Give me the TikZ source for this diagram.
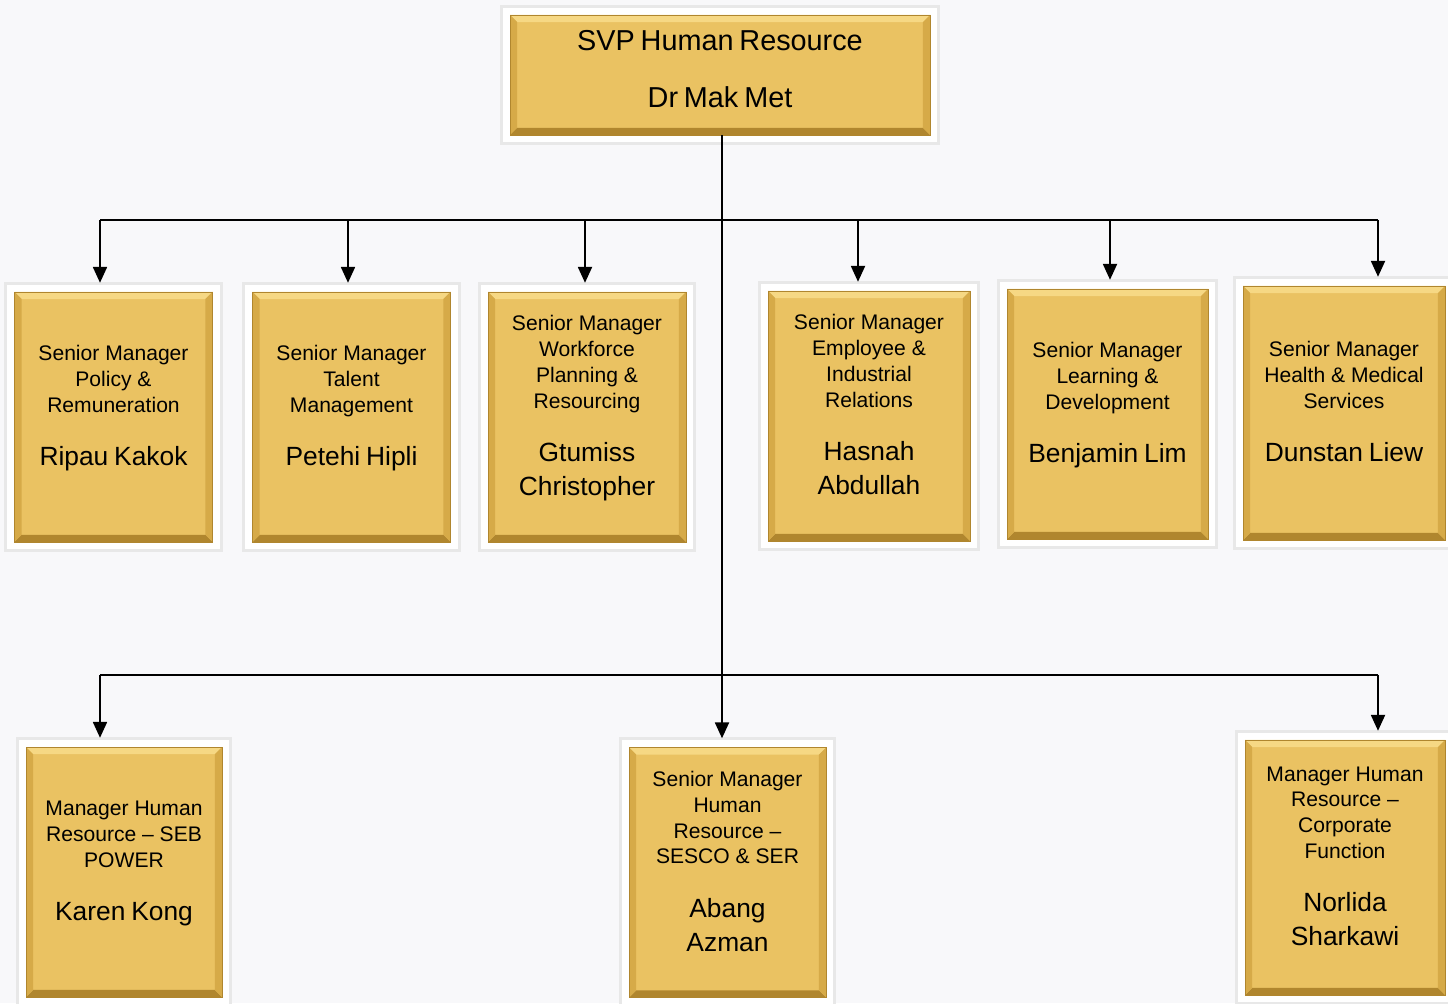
\documentclass[tikz,border=0pt]{standalone}
\usepackage{fontspec}
\setmainfont{Liberation Sans}
\usetikzlibrary{arrows.meta, calc}
\definecolor{paper}{RGB}{248,248,250}
\definecolor{gold}{RGB}{234,194,98}
\definecolor{goldlight}{RGB}{246,216,132}
\definecolor{goldside}{RGB}{214,170,72}
\definecolor{golddark}{RGB}{176,134,46}
\newcommand{\rolefont}{\fontsize{12}{14.7}\selectfont}
\newcommand{\namefont}{\fontsize{15}{19.3}\selectfont}
\newcommand{\titlefont}{\fontsize{16.4}{19.7}\selectfont}
% role text, gap, then the person
\newcommand{\post}[2]{{\rolefont #1\par}\vspace{11pt}{\namefont #2\rule[-13pt]{0pt}{0pt}\par}}
% raised edge of a gold plate
\newcommand{\bevel}{%
  \coordinate (bnw) at (path picture bounding box.north west);
  \coordinate (bne) at (path picture bounding box.north east);
  \coordinate (bse) at (path picture bounding box.south east);
  \coordinate (bsw) at (path picture bounding box.south west);
  \fill[goldlight] (bnw) -- (bne) -- ([shift={(-4pt,-4pt)}]bne) -- ([shift={(4pt,-4pt)}]bnw) -- cycle;
  \fill[golddark] (bsw) -- (bse) -- ([shift={(-4pt,4pt)}]bse) -- ([shift={(4pt,4pt)}]bsw) -- cycle;
  \fill[goldside] (bsw) -- ([shift={(4pt,4pt)}]bsw) -- ([shift={(4pt,-4pt)}]bnw) -- (bnw) -- cycle;
  \fill[goldside] (bse) -- ([shift={(-4pt,4pt)}]bse) -- ([shift={(-4pt,-4pt)}]bne) -- (bne) -- cycle;
}
\tikzset{
  plate/.style={rectangle, fill=gold, draw=golddark, line width=0.5pt, inner sep=0pt,
    align=center, text width=3.8cm, minimum width=3.96cm, minimum height=5cm,
    preaction={draw=black!9, line width=11.5pt},
    preaction={draw=white, line width=8.5pt},
    path picture={\bevel}},
  link/.style={line width=0.9pt, -{Triangle[width=8pt,length=9pt]}, shorten >=5pt},
  bus/.style={line width=0.9pt}
}
\begin{document}
\begin{tikzpicture}
\fill[paper] (0,0) rectangle (28.96,20.06);
\useasboundingbox (0,0) rectangle (28.96,20.06);

\node[plate, text width=8cm, minimum width=8.4cm, minimum height=2.4cm] (svp) at (14.4,18.56)
  {{\titlefont SVP Human Resource\par}\vspace{13pt}{\titlefont Dr Mak Met\rule[-7pt]{0pt}{0pt}\par}};

% first row
\node[plate] (a1) at (2.27,11.72) {\post{Senior Manager\\Policy \&\\Remuneration}{Ripau Kakok}};
\node[plate] (a2) at (7.03,11.72) {\post{Senior Manager\\Talent\\Management}{Petehi Hipli}};
\node[plate] (a3) at (11.74,11.72) {\post{Senior Manager\\Workforce\\Planning \&\\Resourcing}{Gtumiss\\Christopher}};
\node[plate, minimum width=4.04cm] (a4) at (17.38,11.74) {\post{Senior Manager\\Employee \&\\Industrial\\Relations}{Hasnah\\Abdullah}};
\node[plate, minimum width=4.02cm] (a5) at (22.15,11.78) {\post{Senior Manager\\Learning \&\\Development}{Benjamin Lim}};
\node[plate, minimum width=4.04cm, minimum height=5.08cm] (a6) at (26.88,11.80) {\post{Senior Manager\\Health \& Medical\\Services}{Dunstan Liew}};

% second row
\node[plate, minimum width=3.92cm] (b1) at (2.48,2.62) {\post{Manager Human\\Resource – SEB\\POWER}{Karen Kong}};
\node[plate, minimum width=3.94cm] (b2) at (14.55,2.61) {\post{Senior Manager\\Human\\Resource –\\SESCO \& SER}{Abang\\Azman}};
\node[plate, minimum width=4.0cm, minimum height=5.1cm] (b3) at (26.9,2.71) {\post{Manager Human\\Resource –\\Corporate\\Function}{Norlida\\Sharkawi}};

\coordinate (bus1) at (0,15.66);
\coordinate (bus2) at (0,6.56);
\coordinate (hub) at ([xshift=0.04cm]svp.south);

\foreach \n/\dx in {a1/-0.27, a2/-0.07, a3/-0.04, a4/-0.22, a5/0.05, a6/0.68}{
  \coordinate (\n-in) at ([xshift=\dx cm]\n.north);
  \draw[link] (\n-in |- bus1) -- (\n-in);
}
\foreach \n/\dx in {b1/-0.48, b3/0.66}{
  \coordinate (\n-in) at ([xshift=\dx cm]\n.north);
  \draw[link] (\n-in |- bus2) -- (\n-in);
}
\draw[bus] (a1-in |- bus1) -- (a6-in |- bus1);
\draw[bus] (b1-in |- bus2) -- (b3-in |- bus2);
\draw[link] (hub) -- (hub |- b2.north);
\end{tikzpicture}
\end{document}
